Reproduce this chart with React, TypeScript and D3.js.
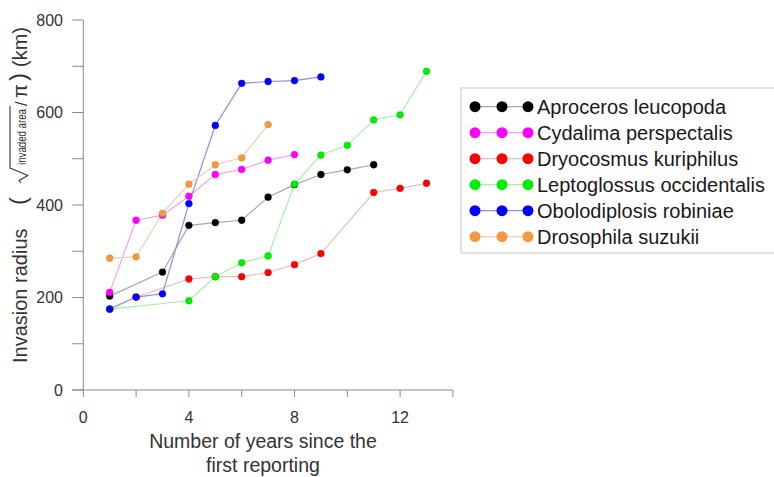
import * as d3 from "d3";
import { useEffect } from "react";

// values
const aproYears = [1, 3, 4, 5, 6, 7, 8, 9, 10, 11];
const aproValues = [203, 255, 356, 362, 367, 417, 444, 466, 476, 487];
const cydaYears = [1, 2, 3, 4, 5, 6, 7, 8];
const cydaValues = [211, 367, 378, 419, 466, 477, 497, 509];
const dryoYears = [1, 2, 4, 5, 6, 7, 8, 9, 11, 12, 13];
const dryoValues = [175, 201, 240, 245, 245, 254, 271, 295, 427, 436, 447];
const leptYears = [1, 4, 5, 6, 7, 8, 9, 10, 11, 12, 13];
const leptValues = [175, 193, 245, 275, 290, 445, 508, 529, 584, 595, 689];
const oboYears = [1, 2, 3, 4, 5, 6, 7, 8, 9];
const oboValues = [175, 201, 208, 403, 572, 663, 667, 669, 677];
const drosYears = [1, 2, 3, 4, 5, 6, 7];
const drosValues = [285, 288, 382, 445, 487, 502, 574];

const speciesNames = [
  "Aproceros leucopoda",
  "Cydalima perspectalis",
  "Dryocosmus kuriphilus",
  "Leptoglossus occidentalis",
  "Obolodiplosis robiniae",
  "Drosophila suzukii",
];

const yTicks = [0, 200, 400, 600, 800];
const yMinorTicks = [100, 300, 500, 700];
const xTicks = [0, 4, 8, 12];
const xMinorTicks = [2, 6, 10, 14];

const dotColors = ["#000000", "#ff00ff", "#ff0000", "#00ee00", "#0000ff", "#f39a3e"];
const lineColors = ["#a8a8a8", "#eaa6ea", "#e8bcbc", "#aaeeaa", "#8c8ce4", "#f2cbb4"];

const series = [
  [aproYears, aproValues],
  [cydaYears, cydaValues],
  [dryoYears, dryoValues],
  [leptYears, leptValues],
  [oboYears, oboValues],
  [drosYears, drosValues],
].map(([xs, vs], i) => ({
  name: speciesNames[i],
  points: xs.map((x, j) => ({ x, y: vs[j] })),
  dot: dotColors[i],
  line: lineColors[i],
}));

const width = 774;
const height = 477;
const font = "'Liberation Sans', Arial, sans-serif";

const x = d3.scaleLinear().domain([0, 14]).range([83.3, 452.9]);
const y = d3.scaleLinear().domain([0, 800]).range([390, 20]);

const line = d3
  .line<{ x: number; y: number }>()
  .x((d) => x(d.x))
  .y((d) => y(d.y));

export default function App() {
  useEffect(() => {
    document.body.style.margin = "0";
  }, []);

  const axisColor = "#8a8a8a";

  return (
    <svg width={width} height={height} style={{ display: "block", background: "#fff" }}>
      {/* y axis */}
      <line x1={x(0)} x2={x(0)} y1={y(800)} y2={y(0)} stroke={axisColor} strokeWidth={1} />
      {[...yTicks, ...yMinorTicks].map((t) => (
        <line key={"yt" + t} x1={x(0) - 11} x2={x(0)} y1={y(t)} y2={y(t)} stroke={axisColor} strokeWidth={1} />
      ))}
      {yTicks.map((t) => (
        <text
          key={"yl" + t}
          x={63}
          y={y(t)}
          dy="0.35em"
          textAnchor="end"
          fontFamily={font}
          fontSize={16}
          fill="#333"
        >
          {t}
        </text>
      ))}

      {/* x axis */}
      <line x1={x(0) - 11} x2={x(14)} y1={y(0)} y2={y(0)} stroke={axisColor} strokeWidth={1} />
      {[...xTicks, ...xMinorTicks].map((t) => (
        <line key={"xt" + t} x1={x(t)} x2={x(t)} y1={y(0)} y2={y(0) + 7} stroke={axisColor} strokeWidth={1} />
      ))}
      {xTicks.map((t) => (
        <text
          key={"xl" + t}
          x={x(t)}
          y={423}
          textAnchor="middle"
          fontFamily={font}
          fontSize={16}
          fill="#333"
        >
          {t}
        </text>
      ))}

      {/* x title */}
      <text x={263} y={448} textAnchor="middle" fontFamily={font} fontSize={19.5} fill="#333">
        Number of years since the
      </text>
      <text x={263} y={472} textAnchor="middle" fontFamily={font} fontSize={19.5} fill="#333">
        first reporting
      </text>

      {/* y title with the square-root expression */}
      <g transform="translate(27,0) rotate(-90)" fontFamily={font} fill="#333">
        <text x={-363} y={0} fontSize={20}>
          Invasion radius
        </text>
        <text x={-205} y={-1} fontSize={24}>
          (
        </text>
        <path
          d="M-183,-6 L-180.5,-8 L-175.5,1 L-168,-17 L-106,-17"
          fill="none"
          stroke="#333"
          strokeWidth={1.1}
          strokeLinejoin="round"
        />
        <text x={-165} y={-1} fontSize={12} textLength={56} lengthAdjust="spacingAndGlyphs">
          invaded area
        </text>
        <text x={-106} y={0} fontSize={16}>
          /
        </text>
        <text x={-98} y={0} fontSize={20}>
          π
        </text>
        <text x={-81} y={-1} fontSize={24}>
          )
        </text>
        <text x={-67} y={0} fontSize={20}>
          (km)
        </text>
      </g>

      {/* lines then dots, in legend order */}
      {series.map((s) => (
        <path key={"l" + s.name} d={line(s.points) ?? ""} fill="none" stroke={s.line} strokeWidth={1.2} />
      ))}
      {series.map((s) => (
        <g key={"d" + s.name}>
          {s.points.map((p) => (
            <circle
              key={p.x}
              cx={x(p.x)}
              cy={y(p.y)}
              r={3.4}
              fill={s.dot}
              stroke={d3.color(s.dot)!.darker(0.4).formatHex()}
              strokeWidth={0.5}
            />
          ))}
        </g>
      ))}

      {/* legend */}
      <rect x={461} y={88} width={330} height={165} fill="#fff" stroke="#cfcfcf" strokeWidth={1.2} />
      {series.map((s, i) => {
        const ly = 106.7 + i * 26;
        return (
          <g key={"lg" + s.name}>
            <line x1={475} x2={528} y1={ly} y2={ly} stroke={s.line} strokeWidth={1.2} />
            {[475, 502, 528].map((cx) => (
              <circle key={cx} cx={cx} cy={ly} r={5.5} fill={s.dot} />
            ))}
            <text x={537} y={ly} dy="0.36em" fontFamily={font} fontSize={20} fill="#1a1a1a">
              {s.name}
            </text>
          </g>
        );
      })}
    </svg>
  );
}
